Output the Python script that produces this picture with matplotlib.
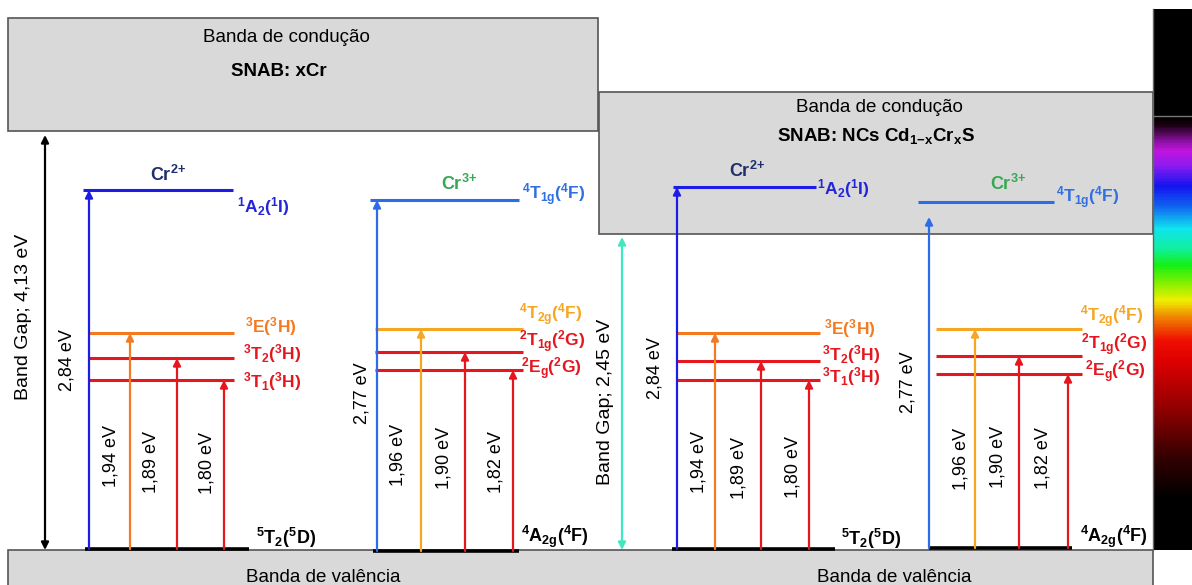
import numpy as np
import matplotlib.pyplot as plt
from matplotlib.colors import LinearSegmentedColormap
from matplotlib.patches import Rectangle

plt.rcParams['font.family'] = ['Liberation Sans', 'DejaVu Sans']
plt.rcParams['mathtext.fontset'] = 'custom'
plt.rcParams['mathtext.rm'] = 'Liberation Sans:bold'
plt.rcParams['mathtext.it'] = 'Liberation Sans:bold'
plt.rcParams['mathtext.bf'] = 'Liberation Sans:bold'
plt.rcParams['mathtext.sf'] = 'Liberation Sans:bold'

# --- data: transition energies (eV) and term symbols ---
cr2_energies = [2.84, 1.94, 1.89, 1.80]
cr3_energies = [2.77, 1.96, 1.90, 1.82]
cr2_states = [r'$^{1}$A$_{2}$($^{1}$I)', r'$^{3}$E($^{3}$H)',
              r'$^{3}$T$_{2}$($^{3}$H)', r'$^{3}$T$_{1}$($^{3}$H)']
cr3_states = [r'$^{4}$T$_{1g}$($^{4}$F)', r'$^{4}$T$_{2g}$($^{4}$F)',
              r'$^{2}$T$_{1g}$($^{2}$G)', r'$^{2}$E$_{g}$($^{2}$G)']
cr2_ground = r'$^{5}$T$_{2}$($^{5}$D)'
cr3_ground = r'$^{4}$A$_{2g}$($^{4}$F)'
# braces keep the +/- from getting operator spacing
ions = [r'Cr$^{2{+}}$', r'Cr$^{3{+}}$']
hosts = ['SNAB: xCr', r'SNAB: NCs Cd$_{1{-}x}$Cr$_{x}$S']
band_gaps = [4.13, 2.45]

# --- colours ---
BLUE2 = '#1c1ce6'
BLUE3 = '#2d6ce8'
ORANGE = '#f47a22'
AMBER = '#f5a623'
RED = '#e5161e'
NAVY = '#1f2f6e'
GREEN = '#35a853'
TEAL = '#40e8c0'
BOX = '#d9d9d9'
EDGE = '#555555'

cr2_colors = [BLUE2, ORANGE, RED, RED]
cr3_colors = [BLUE3, AMBER, RED, RED]

# --- schematic layout (diagram units = pixels) ---
panels = [
    dict(energies=cr2_energies, states=cr2_states, ground=cr2_ground, ion=ions[0],
         ion_color=NAVY, colors=cr2_colors, label_colors=['#2424d8', ORANGE, RED, RED],
         arrows_x=[89, 130, 177, 224], top_line=(83, 233), lines=(89, 234),
         ground_line=(85, 249), levels_y=[190, 333, 358, 380], ground_y=549, top_gap=0,
         ion_xy=(168, 175), label_xy=[(237, 207), (245, 327), (243, 354), (243, 382)],
         ground_xy=(256, 538), ev_x=[67, 111, 151, 207], ev_y=[360, 456, 462, 463]),
    dict(energies=cr3_energies, states=cr3_states, ground=cr3_ground, ion=ions[1],
         ion_color=GREEN, colors=cr3_colors, label_colors=['#3070e0', AMBER, RED, RED],
         arrows_x=[377, 421, 465, 513], top_line=(370, 519), lines=(375, 523),
         ground_line=(373, 519), levels_y=[200, 329, 352, 370], ground_y=551, top_gap=0,
         ion_xy=(459, 184), label_xy=[(522, 195), (519, 315), (519, 342), (521, 369)],
         ground_xy=(521, 537), ev_x=[362, 398, 444, 496], ev_y=[393, 455, 458, 462]),
    dict(energies=cr2_energies, states=cr2_states, ground=cr2_ground, ion=ions[0],
         ion_color=NAVY, colors=cr2_colors, label_colors=['#2424d8', ORANGE, RED, RED],
         arrows_x=[677, 715, 761, 809], top_line=(673, 816), lines=(676, 820),
         ground_line=(672, 835), levels_y=[187, 333, 361, 380], ground_y=549, top_gap=0,
         ion_xy=(747, 171), label_xy=[(817, 189), (824, 329), (822, 355), (822, 377)],
         ground_xy=(841, 539), ev_x=[655, 699, 739, 793], ev_y=[368, 462, 468, 467]),
    dict(energies=cr3_energies, states=cr3_states, ground=cr3_ground, ion=ions[1],
         ion_color=GREEN, colors=cr3_colors, label_colors=['#3070e0', AMBER, RED, RED],
         arrows_x=[929, 975, 1019, 1068], top_line=(918, 1054), lines=(936, 1082),
         ground_line=(929, 1072), levels_y=[202, 329, 356, 374], ground_y=548, top_gap=15,
         ion_xy=(1008, 184), label_xy=[(1056, 198), (1080, 317), (1081, 345), (1085, 372)],
         ground_xy=(1080, 537), ev_x=[908, 961, 998, 1043], ev_y=[382, 459, 457, 458]),
]


def ev_text(e):
    return f'{e:.2f}'.replace('.', ',') + ' eV'


def arrow(ax, x, y0, y1, color, both=False, lw=1.6, z=4):
    style = '<|-|>' if both else '-|>'
    ax.annotate('', xy=(x, y1), xytext=(x, y0),
                arrowprops=dict(arrowstyle=style, color=color, lw=lw,
                                shrinkA=0, shrinkB=0, mutation_scale=11),
                zorder=z)


fig = plt.figure(figsize=(11.92, 5.85), dpi=100)
ax = fig.add_axes([0, 0, 1, 1])
ax.set_xlim(0, 1192)
ax.set_ylim(585, 0)
ax.axis('off')

# conduction / valence bands
ax.add_patch(Rectangle((8, 18), 590, 113, facecolor=BOX, edgecolor=EDGE, lw=1.2, zorder=1))
ax.add_patch(Rectangle((599, 92), 554, 142, facecolor=BOX, edgecolor=EDGE, lw=1.2, zorder=1))
ax.add_patch(Rectangle((8, 550), 1145, 50, facecolor=BOX, edgecolor=EDGE, lw=1.2, zorder=1))

ax.text(286, 37, 'Banda de condução', ha='center', va='center', fontsize=13.5)
ax.text(279, 71, hosts[0], ha='center', va='center', fontsize=13.5, fontweight='bold')
ax.text(879, 108, 'Banda de condução', ha='center', va='center', fontsize=13.5)
ax.text(876, 136, hosts[1], ha='center', va='center', fontsize=13.5, fontweight='bold')
ax.text(323, 577, 'Banda de valência', ha='center', va='center', fontsize=13.5)
ax.text(894, 577, 'Banda de valência', ha='center', va='center', fontsize=13.5)

# band gap arrows
arrow(ax, 45, 550, 135, 'black', both=True, lw=1.6)
arrow(ax, 622, 550, 237, TEAL, both=True, lw=1.6)
ax.text(24, 317, f'Band Gap; {ev_text(band_gaps[0])}', rotation=90,
        ha='center', va='center', fontsize=14)
ax.text(606, 402, f'Band Gap; {ev_text(band_gaps[1])}', rotation=90,
        ha='center', va='center', fontsize=14)

# energy level schemes
for p in panels:
    gy = p['ground_y']
    ax.plot(p['ground_line'], [gy, gy], color='black', lw=2.6, solid_capstyle='butt', zorder=3)
    ax.text(*p['ground_xy'], p['ground'], ha='left', va='center', fontsize=13,
            fontweight='bold', color='black')
    ax.text(*p['ion_xy'], p['ion'], ha='center', va='center', fontsize=13,
            fontweight='bold', color=p['ion_color'])
    for i, (e, state) in enumerate(zip(p['energies'], p['states'])):
        y = p['levels_y'][i]
        span = p['top_line'] if i == 0 else p['lines']
        ax.plot(span, [y, y], color=p['colors'][i], lw=2.2, solid_capstyle='butt', zorder=3)
        top = y + (p['top_gap'] if i == 0 else 0)
        arrow(ax, p['arrows_x'][i], gy, top, p['colors'][i], lw=1.6)
        ax.text(*p['label_xy'][i], state, ha='left', va='center', fontsize=12.5,
                fontweight='bold', color=p['label_colors'][i])
        ax.text(p['ev_x'][i], p['ev_y'][i], ev_text(e), rotation=90,
                ha='center', va='center', fontsize=13)

# visible spectrum strip
spectrum = LinearSegmentedColormap.from_list('spectrum', [
    (0.000, '#000000'), (0.018, '#1a0012'), (0.055, '#8a10a0'), (0.078, '#c414e0'),
    (0.113, '#8a1cf0'), (0.159, '#1414f0'), (0.205, '#1060f0'), (0.258, '#10e4f0'),
    (0.304, '#10f0a0'), (0.343, '#14f014'), (0.389, '#90f000'), (0.424, '#f0f000'),
    (0.465, '#f08000'), (0.516, '#f01000'), (0.562, '#e00000'), (0.677, '#900000'),
    (0.793, '#300000'), (0.885, '#000000'), (1.000, '#000000')])
ax.add_patch(Rectangle((1153, 9), 39, 107, facecolor='black', edgecolor='none', zorder=1))
grad = np.linspace(0, 1, 400).reshape(-1, 1)
ax.imshow(grad, cmap=spectrum, aspect='auto', extent=[1153, 1192, 550, 116],
          origin='upper', zorder=1)
ax.plot([1153, 1192], [116, 116], color='#777777', lw=1, zorder=2)
ax.plot([1153, 1153], [9, 550], color='#666666', lw=1, zorder=2)

fig.savefig('out.png', dpi=100)
